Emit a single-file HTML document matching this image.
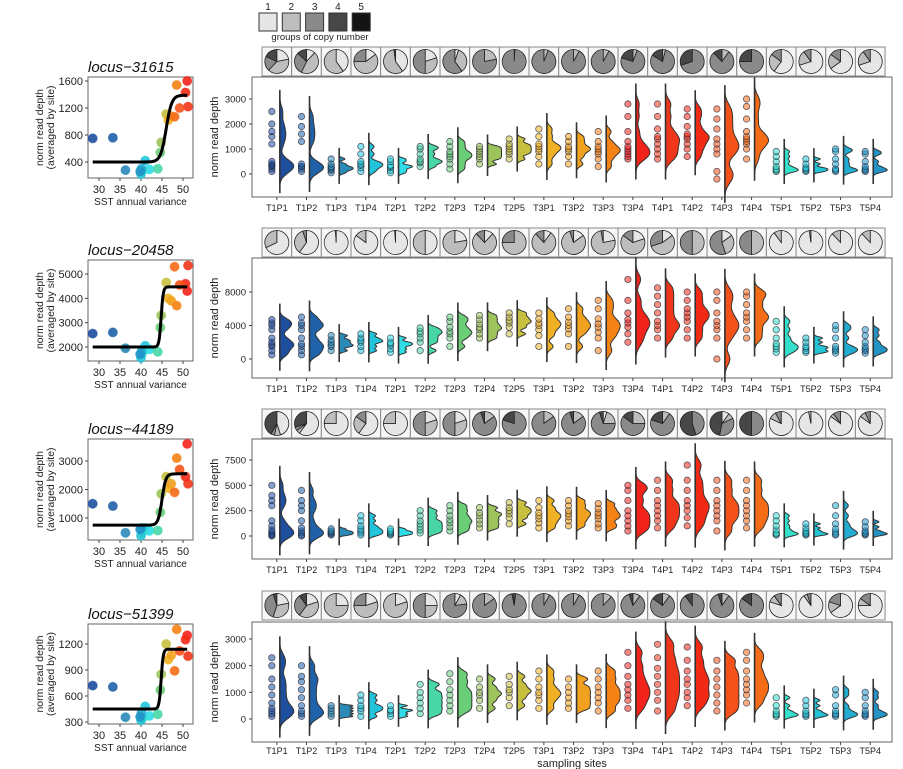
<!DOCTYPE html>
<html><head><meta charset="utf-8">
<style>
html,body{margin:0;padding:0;background:#fff;}
svg{display:block;font-family:"Liberation Sans",sans-serif;}
</style></head>
<body>
<svg id="fig" width="903" height="769" viewBox="0 0 903 769" xmlns="http://www.w3.org/2000/svg"></svg>
<script>
const sites=["T1P1","T1P2","T1P3","T1P4","T2P1","T2P2","T2P3","T2P4","T2P5","T3P1","T3P2","T3P3","T3P4","T4P1","T4P2","T4P3","T4P4","T5P1","T5P2","T5P3","T5P4"];
const siteColors=["#1d4f9e","#1f62aa","#2a8ab8","#22c4dc","#2fdde6","#48d6a6","#6acd78","#9cc45a","#c7bf3e","#f0b224","#f2a11e","#f58214","#f2231a","#f0361a","#f22a14","#f4521a","#f56c16","#33e0cc","#23c4d6","#22acd2","#2294c6"];
const sst=[28.5,33.3,36.3,41.0,42.0,44.0,44.6,44.8,46.0,46.5,47.2,48.5,51.0,51.2,50.6,49.2,48.0,40.3,40.0,40.1,39.8];
const lociNames=["locus\u221231615","locus\u221220458","locus\u221244189","locus\u221251399"];
const siteMeans1=[750,760,280,420,290,300,540,690,1110,1020,1080,1540,1600,1220,1430,1200,1070,270,220,300,260];
const siteMeans2=[2550,2600,1950,2050,1900,1800,2800,3300,4650,4000,3900,3700,4300,5350,4600,4550,5300,1750,1550,1800,1700];
const siteMeans3=[1500,1420,480,650,550,560,1200,1850,2450,2050,2200,3100,3600,2200,2450,2700,1900,500,380,650,600];
const siteMeans4=[720,705,355,480,370,390,670,850,1200,1020,1070,1370,1300,1060,1250,1120,890,340,320,400,360];
const curveFit1=[400,1390,46.0,1.5];
const curveFit2=[2000,4470,44.8,4];
const curveFit3=[750,2550,45.0,2.2];
const curveFit4=[450,1140,44.8,4];
const dots1=[[100,200,300,350,400,500,1200,1500,1700,2000,2500],[100,200,300,300,400,1300,1600,1900,2300],[50,150,200,250,300,400,600],[100,250,350,400,500,800,1100],[50,150,250,300,350,500,600],[300,450,500,600,800,1000,1100],[200,400,600,700,800,900,1100,1300],[400,600,700,800,900,1000,1100],[600,800,900,1000,1100,1200,1400],[400,700,900,1000,1100,1200,1500,1800],[400,700,900,1000,1100,1300,1500],[300,600,800,900,1000,1100,1300,1700],[600,700,800,900,1000,1100,1300,1700,2300,2800],[600,800,1000,1200,1400,1500,1800,2300,2800],[700,1000,1200,1400,1500,1600,1900,2300,2600],[-200,100,800,1000,1200,1400,1800,2200,2600],[600,1000,1200,1300,1400,1500,1700,2200,2700,3000],[100,150,200,300,500,700,900],[100,150,200,250,400,600],[100,150,200,400,600,900,1000],[100,150,200,300,500,800,900]];
const dots2=[[500,1000,1500,1700,2000,2500,3500,4000,4300,4700],[500,1000,1500,1800,2500,3500,4000,4300,5000],[1000,1500,1700,2000,2300,2800],[1000,1500,2000,2200,2500,3000],[800,1200,1600,1800,2000,2500],[1000,2000,2500,3000,3300,3700],[1500,2500,3000,3300,3800,4500,5000],[2500,3000,3500,3800,4200,4700,5200],[3000,3800,4300,4600,5000,5500],[1500,2800,3500,4000,4300,4800,5500],[1500,3000,3600,4000,4400,5000,6000],[1000,2500,3200,3800,4200,4800,6000,7000],[2000,3000,3800,4300,4700,5500,7000,9500],[2500,3500,4000,4500,5500,6500,7500,8500],[2500,3500,4500,5000,5500,6000,7000,8000],[0,2500,3500,4000,4500,5500,7000,8000],[2500,3500,4500,5000,5500,6500,7500,8000],[800,1200,1500,1800,2500,3500,4500],[800,1000,1300,1500,2000,2500],[700,1000,1200,1500,2500,3500,4000],[700,1000,1200,1500,2000,2800,3500]];
const dots3=[[0,100,200,400,600,1000,1500,3000,3500,4000,5000],[0,100,300,500,800,1500,2500,3000,3500,4500],[100,200,300,400,500,700],[100,300,500,700,1000,1500,2000],[100,200,300,400,500,700],[300,600,900,1200,1500,2000,2500],[500,900,1300,1600,2000,2500,3000],[800,1200,1600,2000,2300,2800],[1200,1800,2200,2500,2800,3300],[800,1300,1700,2000,2300,2800,3500],[1000,1500,1900,2200,2500,3000,3500],[800,1200,1700,2000,2300,2700,3200],[500,1000,1500,2000,2500,3500,4500,5000],[800,1500,2000,2500,3000,3500,4500,5500],[1000,1800,2500,3000,3500,4500,5500,7000],[500,1500,2000,2500,3000,3500,4500,5500],[800,1500,2000,2500,3000,3500,4500,5500],[100,200,300,600,1000,1500,2000],[100,200,300,500,800,1200],[100,200,400,700,1200,2000,3000],[100,200,300,500,900,1400]];
const dots4=[[100,200,300,400,600,900,1200,1500,2000,2300],[100,200,300,500,800,1100,1400,1600,2000],[100,200,300,400,500],[100,300,400,500,700,900],[100,200,300,350,500],[200,400,600,800,1000,1300],[300,500,700,900,1100,1400,1700],[400,700,900,1000,1200,1500],[500,800,1000,1100,1300,1600],[400,700,900,1000,1200,1500,1800],[400,600,800,1000,1200,1500],[300,600,800,1000,1200,1500,1800],[400,700,900,1100,1300,1600,2000,2500],[300,700,1000,1300,1600,1900,2300,2800],[500,800,1000,1300,1500,1800,2200,2700],[300,600,900,1200,1500,1800,2200],[600,900,1100,1300,1500,1800,2200,2500],[100,150,200,300,500,800],[100,150,200,300,500,700],[100,150,200,300,500,900,1100],[100,150,200,300,500,800,1000]];
const pies1=[[.22,.4,.2,.18,0],[.12,.45,.3,.13,0],[.4,.6,0,0,0],[.15,.6,.25,0,0],[.4,.58,0,.02,0],[.2,.3,.5,0,0],[.05,.35,.6,0,0],[0,.22,.78,0,0],[0,.01,.99,0,0],[0,.06,.94,0,0],[0,.08,.92,0,0],[0,.08,.92,0,0],[0,.06,.74,.2,0],[0,.04,.8,.16,0],[0,0,.7,.3,0],[0,.1,.78,.12,0],[0,0,.75,.25,0],[.6,.25,.15,0,0],[.7,.2,.1,0,0],[.65,.2,.15,0,0],[.7,.2,.1,0,0]];
const pies2=[[.68,.32,0,0,0],[.6,.35,.05,0,0],[.99,0,.01,0,0],[.85,.15,0,0,0],[.99,0,.01,0,0],[.5,.5,0,0,0],[.22,.78,0,0,0],[.12,.76,.12,0,0],[0,.75,.25,0,0],[.1,.78,.12,0,0],[.15,.8,.05,0,0],[.22,.75,.03,0,0],[.2,.65,.15,0,0],[.15,.55,.3,0,0],[0,.5,.5,0,0],[.15,.3,.55,0,0],[0,.5,.5,0,0],[.9,.1,0,0,0],[.98,.02,0,0,0],[.88,.12,0,0,0],[.88,.12,0,0,0]];
const pies3=[[.45,.08,.05,.42,0],[.6,.05,.05,.3,0],[.75,.25,0,0,0],[.6,.25,.15,0,0],[.75,.25,0,0,0],[.2,.3,.5,0,0],[.2,.3,.5,0,0],[0,.15,.8,.05,0],[0,0,.8,.2,0],[0,.15,.85,0,0],[0,.15,.8,.05,0],[.05,.2,.7,.05,0],[0,.25,.6,.15,0],[0,.1,.7,.2,0],[0,0,.45,.55,0],[.1,.08,.35,.47,0],[0,0,.5,.5,0],[.82,.1,.08,0,0],[.97,.03,0,0,0],[.85,.05,.1,0,0],[.85,.08,.07,0,0]];
const pies4=[[.22,.33,.4,.05,0],[.2,.4,.3,.1,0],[.25,.75,0,0,0],[.2,.55,.25,0,0],[.2,.8,0,0,0],[.25,.25,.5,0,0],[.08,.15,.77,0,0],[0,.15,.85,0,0],[0,.02,.95,.03,0],[0,.08,.92,0,0],[0,.08,.92,0,0],[0,.12,.88,0,0],[0,.1,.85,.05,0],[0,.1,.75,.15,0],[0,0,.9,.1,0],[0,.1,.85,.05,0],[0,0,.85,.15,0],[.8,.1,.1,0,0],[.9,.05,.05,0,0],[.65,.15,.2,0,0],[.75,.1,.15,0,0]];
const groupLabels=["1","2","3","4","5"];
const groupFills=["#e6e6e6","#bdbdbd","#8a8a8a","#474747","#141414"];
const leftTicks=[[400,800,1200,1600],[2000,3000,4000,5000],[1000,2000,3000],[300,600,900,1200]];
const rightTicks=[[0,1000,2000,3000],[0,4000,8000],[0,2500,5000,7500],[0,1000,2000,3000]];
const sstTicks=[30,35,40,45,50];

const NS="http://www.w3.org/2000/svg";
const svg=document.getElementById('fig');
function mk(tag,attrs,parent){const e=document.createElementNS(NS,tag);for(const k in attrs)e.setAttribute(k,attrs[k]);(parent||svg).appendChild(e);return e;}

const rowGeo=[
 {lt:77,lb:178,lv0:400,ly0:162,lv1:1600,ly1:81, st:47, rt:77,rb:197, rv1:3000, ry0:174, ry1:99, lab:207},
 {lt:260,lb:361,lv0:2000,ly0:347,lv1:5000,ly1:274, st:228, rt:258,rb:378, rv1:8000, ry0:359, ry1:292, lab:388},
 {lt:439,lb:540,lv0:1000,ly0:518,lv1:3000,ly1:461, st:409, rt:439,rb:559, rv1:7500, ry0:536, ry1:460, lab:569},
 {lt:624,lb:724,lv0:300,ly0:722,lv1:1200,ly1:644, st:591, rt:622,rb:742, rv1:3000, ry0:719, ry1:639, lab:750}
];
const meansAll=[siteMeans1,siteMeans2,siteMeans3,siteMeans4];
const fitsAll=[curveFit1,curveFit2,curveFit3,curveFit4];
const dotsAll=[dots1,dots2,dots3,dots4];
const piesAll=[pies1,pies2,pies3,pies4];
const LX0=88,LX1=193;
const sx=v=>99+(v-30)*4.2;
const RX0=252,RX1=892;
const cellX0=262,cellW=29.67;
const cx=i=>cellX0+cellW*(i+0.5);

const leg=mk('g',{});


groupLabels.forEach((lab,i)=>{
  const x=259+23.3*i;
  const r=mk('rect',{x:x,y:13,width:18,height:18,fill:groupFills[i],stroke:'#333','stroke-width':1},leg);
  
  
  const t=mk('text',{x:x+9,y:10,'font-size':10,'text-anchor':'middle',fill:'#222'},leg);
  t.textContent=lab;
  
  
});
const lt=mk('text',{x:320,y:40,'font-size':9.5,'text-anchor':'middle',fill:'#222'},leg);
lt.textContent='groups of copy number';



function kde(vals,bw,y){let s=0;for(const v of vals){const z=(y-v)/bw;s+=Math.exp(-0.5*z*z);}return s;}

rowGeo.forEach((g,r)=>{
  const grp=mk('g',{});
  
  
  const ly=v=>g.ly0+(v-g.lv0)*(g.ly1-g.ly0)/(g.lv1-g.lv0);
  const box=mk('rect',{x:LX0,y:g.lt,width:LX1-LX0,height:g.lb-g.lt,fill:'#fff',stroke:'#666','stroke-width':1},grp);
  
  
  const title=mk('text',{x:LX0,y:g.lt-5,'font-size':15,'font-style':'italic',fill:'#111'},grp);
  title.textContent=lociNames[r];
  
  
  leftTicks[r].forEach(v=>{
    const y=ly(v);
    mk('line',{x1:LX0-3,x2:LX0,y1:y,y2:y,stroke:'#444'},grp);
    const t=mk('text',{x:LX0-5,y:y+4,'font-size':11,'text-anchor':'end',fill:'#222'},grp);
    t.textContent=v;
    
    
  });
  sstTicks.forEach(v=>{
    const x=sx(v);
    mk('line',{x1:x,x2:x,y1:g.lb,y2:g.lb+3,stroke:'#444'},grp);
    const t=mk('text',{x:x,y:g.lb+15,'font-size':11,'text-anchor':'middle',fill:'#222'},grp);
    t.textContent=v;
    
    
  });
  const xt=mk('text',{x:(LX0+LX1)/2,y:g.lb+27,'font-size':10,'text-anchor':'middle',fill:'#222'},grp);
  xt.textContent='SST annual variance';
  
  
  const ym=(g.lt+g.lb)/2;
  const yt=mk('text',{x:0,y:0,'font-size':10.5,'text-anchor':'middle',fill:'#222',transform:`translate(43,${ym}) rotate(-90)`},grp);
  yt.textContent='norm read depth';
  
  
  const yt2=mk('text',{x:0,y:0,'font-size':10.5,'text-anchor':'middle',fill:'#222',transform:`translate(54,${ym}) rotate(-90)`},grp);
  yt2.textContent='(averaged by site)';
  
  
  meansAll[r].forEach((v,i)=>{
    const c=mk('circle',{cx:sx(sst[i]),cy:ly(v),r:4.5,fill:siteColors[i],stroke:siteColors[i],'stroke-opacity':0.6,'fill-opacity':0.9},grp);
    
    
  });
  const f=fitsAll[r];let d='';
  for(let x=28.5;x<=51.01;x+=0.1){const v=f[0]+(f[1]-f[0])/(1+Math.exp(-f[3]*(x-f[2])));d+=(d?'L':'M')+sx(x).toFixed(1)+','+ly(v).toFixed(1);}
  const cv=mk('path',{d:d,fill:'none',stroke:'#000','stroke-width':3},grp);
  
  

  sites.forEach((s,i)=>{
    const x=cellX0+cellW*i;
    const cell=mk('rect',{x:x,y:g.st,width:cellW,height:29,fill:'#f7f7f7',stroke:'#8a8a8a','stroke-width':1},grp);
    
    
    const pcx=x+cellW/2,pcy=g.st+14.5,R=12;
    const fr=piesAll[r][i];const tot=fr.reduce((a,b)=>a+b,0);
    let a0=0;
    fr.forEach((p,k)=>{
      if(p<=0)return;
      const a1=a0+p/tot*2*Math.PI;
      let el;
      if(p/tot>0.999){el=mk('circle',{cx:pcx,cy:pcy,r:R,fill:groupFills[k],stroke:'#222','stroke-width':0.8},grp);}
      else{
        const x0=pcx+R*Math.sin(a0),y0=pcy-R*Math.cos(a0),x1=pcx+R*Math.sin(a1),y1=pcy-R*Math.cos(a1);
        el=mk('path',{d:`M${pcx},${pcy}L${x0},${y0}A${R},${R} 0 ${a1-a0>Math.PI?1:0} 1 ${x1},${y1}Z`,fill:groupFills[k],stroke:'#222','stroke-width':0.8},grp);
      }
      
      
      a0=a1;
    });
  });
  const ry=v=>g.ry0+v*(g.ry1-g.ry0)/g.rv1;
  const pb=mk('rect',{x:RX0,y:g.rt,width:RX1-RX0,height:g.rb-g.rt,fill:'#fff',stroke:'#666','stroke-width':1},grp);
  
  
  rightTicks[r].forEach(v=>{
    const y=ry(v);
    mk('line',{x1:RX0-3,x2:RX0,y1:y,y2:y,stroke:'#444'},grp);
    const t=mk('text',{x:RX0-6,y:y+3.5,'font-size':9.5,'text-anchor':'end',fill:'#222'},grp);
    t.textContent=v;
    
    
  });
  const vy=mk('text',{x:0,y:0,'font-size':11,'text-anchor':'middle',fill:'#222',transform:`translate(218,${(g.rt+g.rb)/2}) rotate(-90)`},grp);
  vy.textContent='norm read depth';
  
  
  sites.forEach((s,i)=>{
    const c=cx(i);
    mk('line',{x1:c,x2:c,y1:g.rb,y2:g.rb+3,stroke:'#444'},grp);
    const t=mk('text',{x:c,y:g.lab+4,'font-size':9,'text-anchor':'middle',fill:'#222'},grp);
    t.textContent=s;
    
    
    const vals=dotsAll[r][i];
    const mn=Math.min(...vals),mx=Math.max(...vals);
    const bw=Math.max((mx-mn)/11,g.rv1/80);
    const lo=mn-2.5*bw,hi=mx+2.5*bw;
    const N=60;let pts=[],maxd=0;
    for(let k=0;k<=N;k++){const y=lo+(hi-lo)*k/N;const dd=kde(vals,bw,y);pts.push([y,dd]);if(dd>maxd)maxd=dd;}
    const lx=c+3;
    let d='M'+lx+','+ry(lo);
    pts.forEach(p=>{d+='L'+(lx+p[1]/maxd*14).toFixed(1)+','+ry(p[0]).toFixed(1);});
    d+='L'+lx+','+ry(hi)+'Z';
    const vi=mk('path',{d:d,fill:siteColors[i],stroke:'#333','stroke-width':1},grp);
    
    
    const vl=mk('line',{x1:lx,x2:lx,y1:ry(lo)+8,y2:ry(hi)-8,stroke:'#333','stroke-width':1.6},grp);
    
    
    vals.forEach(v=>{
      const p=mk('circle',{cx:c-5,cy:ry(v),r:3.2,fill:siteColors[i],'fill-opacity':0.55,stroke:'#223','stroke-opacity':0.7,'stroke-width':0.8},grp);
      
      
    });
  });
});
const xs=mk('text',{x:572,y:767,'font-size':11,'text-anchor':'middle',fill:'#222'});
xs.textContent='sampling sites';


</script>
</body></html>
